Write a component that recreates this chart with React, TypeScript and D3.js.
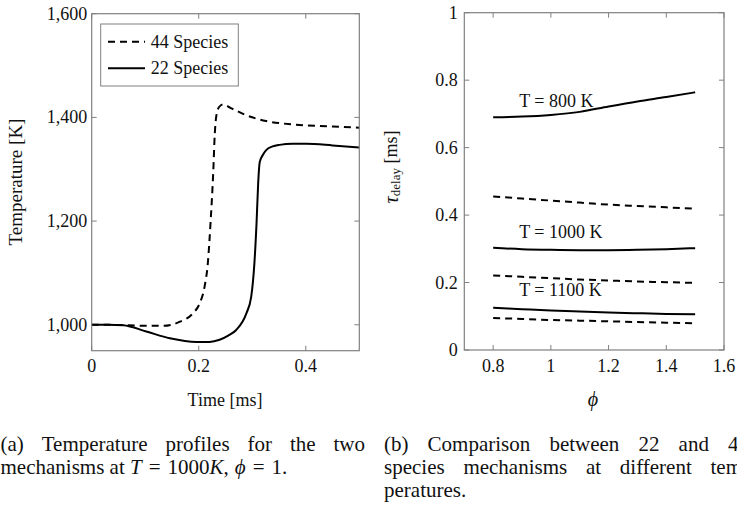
import React from "react";
import * as d3 from "d3";

// ---------- data: panel (a) ----------
const time44 = [0, 0.03, 0.07, 0.10, 0.134, 0.165, 0.189, 0.202, 0.211, 0.217, 0.222, 0.227, 0.230, 0.233, 0.238, 0.245, 0.26, 0.289, 0.326, 0.382, 0.44, 0.5];
const temp44 = [1000, 1000, 999, 998, 998, 1006, 1022, 1042, 1074, 1119, 1196, 1292, 1369, 1404, 1420, 1425, 1418, 1404, 1393, 1386, 1383, 1380];
const time22 = [0, 0.03, 0.059, 0.102, 0.146, 0.196, 0.22, 0.239, 0.255, 0.27, 0.289, 0.298, 0.304, 0.308, 0.311, 0.314, 0.32, 0.326, 0.338, 0.351, 0.375, 0.401, 0.45, 0.5];
const temp22 = [1000, 1000, 999, 987, 974, 967, 967, 971, 979, 990, 1022, 1054, 1119, 1196, 1272, 1314, 1328, 1337, 1344, 1347, 1349, 1349, 1346, 1342];
const timeTicks = [0, 0.2, 0.4];
const tempTicks = [1000, 1200, 1400, 1600];
const legendLabels = ["44 Species", "22 Species"];

// ---------- data: panel (b) ----------
const phi = [0.8, 0.9, 1.0, 1.1, 1.2, 1.3, 1.4, 1.5];
const delay22_800 = [0.690, 0.692, 0.697, 0.706, 0.722, 0.737, 0.750, 0.764];
const delay44_800 = [0.455, 0.449, 0.443, 0.437, 0.431, 0.427, 0.423, 0.419];
const delay22_1000 = [0.303, 0.299, 0.297, 0.296, 0.296, 0.297, 0.299, 0.302];
const delay44_1000 = [0.221, 0.217, 0.213, 0.209, 0.206, 0.203, 0.201, 0.199];
const delay22_1100 = [0.125, 0.121, 0.117, 0.114, 0.111, 0.109, 0.107, 0.106];
const delay44_1100 = [0.095, 0.092, 0.089, 0.087, 0.085, 0.083, 0.081, 0.079];
const phiTicks = [0.8, 1, 1.2, 1.4, 1.6];
const delayTicks = [0, 0.2, 0.4, 0.6, 0.8, 1];
const tempLabels = ["T = 800 K", "T = 1000 K", "T = 1100 K"];
const labelPhi = [0.89, 0.89, 0.89];
const labelDelay = [0.72, 0.333, 0.161];

// ---------- captions ----------
const capA1 = ["(a)", "Temperature", "profiles", "for", "the", "two"];
const capB1 = ["(b)", "Comparison", "between", "22", "and", "44"];
const capB2 = ["species", "mechanisms", "at", "different", "tem-"];
const capB3 = "peratures.";

const SERIF = "'Liberation Serif', 'Times New Roman', serif";
const FRAME = "#808080";
const CAP_SIZE = 21;
const FS = 18;

function justify(words: string[], x0: number, x1: number, size: number) {
  let ctx: CanvasRenderingContext2D | null = null;
  try {
    ctx = document.createElement("canvas").getContext("2d");
  } catch (e) {
    ctx = null;
  }
  const widths = words.map((w) => {
    if (ctx) {
      ctx.font = `${size}px 'Liberation Serif'`;
      return ctx.measureText(w).width;
    }
    return w.length * size * 0.48;
  });
  const total = widths.reduce((a, b) => a + b, 0);
  const gap = (x1 - x0 - total) / (words.length - 1);
  const xs: number[] = [];
  let x = x0;
  widths.forEach((w) => {
    xs.push(x);
    x += w + gap;
  });
  return xs;
}

export default function App() {
  const ax = d3.scaleLinear().domain([0, 0.5]).range([91.7, 359.3]);
  const ay = d3.scaleLinear().domain([950, 1600]).range([350.7, 13.7]);
  const bx = d3.scaleLinear().domain([0.7, 1.6]).range([464.3, 724]);
  const by = d3.scaleLinear().domain([0, 1]).range([350, 12.7]);

  const lineA = d3
    .line<[number, number]>()
    .x((d) => ax(d[0]))
    .y((d) => ay(d[1]))
    .curve(d3.curveMonotoneX);
  const lineB = d3
    .line<[number, number]>()
    .x((d) => bx(d[0]))
    .y((d) => by(d[1]))
    .curve(d3.curveMonotoneX);

  const zip = (xs: number[], ys: number[]) => xs.map((x, i) => [x, ys[i]] as [number, number]);

  const bSeries = [
    { v: delay22_800, dashed: false },
    { v: delay44_800, dashed: true },
    { v: delay22_1000, dashed: false },
    { v: delay44_1000, dashed: true },
    { v: delay22_1100, dashed: false },
    { v: delay44_1100, dashed: true },
  ];

  const dash = "7,5";
  const tickLen = 5;
  const fmtThousands = d3.format(",");

  const a1x = justify(capA1, 0.5, 365, CAP_SIZE);
  const b1x = justify(capB1, 384, 749, CAP_SIZE);
  const b2x = justify(capB2, 384, 749, CAP_SIZE);

  const [axL, axR] = ax.range();
  const [ayB, ayT] = ay.range();
  const [bxL, bxR] = bx.range();
  const [byB, byT] = by.range();

  return (
    <svg
      width={737}
      height={515}
      style={{ position: "absolute", left: 0, top: 0, background: "#fff" }}
      fontFamily={SERIF}
    >
      {/* ============ Panel (a) ============ */}
      <g>
        {timeTicks.map((t) => (
          <g key={"at" + t} stroke={FRAME} strokeWidth={1}>
            <line x1={ax(t)} x2={ax(t)} y1={ayB} y2={ayB - tickLen} />
            <line x1={ax(t)} x2={ax(t)} y1={ayT} y2={ayT + tickLen} />
          </g>
        ))}
        {tempTicks.map((t) => (
          <g key={"ay" + t} stroke={FRAME} strokeWidth={1}>
            <line x1={axL} x2={axL + tickLen} y1={ay(t)} y2={ay(t)} />
            <line x1={axR} x2={axR - tickLen} y1={ay(t)} y2={ay(t)} />
          </g>
        ))}
        <path d={lineA(zip(time44, temp44)) || ""} fill="none" stroke="#000" strokeWidth={2} strokeDasharray={dash} />
        <path d={lineA(zip(time22, temp22)) || ""} fill="none" stroke="#000" strokeWidth={2} />
        <rect x={axL} y={ayT} width={axR - axL} height={ayB - ayT} fill="none" stroke={FRAME} strokeWidth={1.2} />
        {timeTicks.map((t) => (
          <text key={"atl" + t} x={ax(t)} y={372} fontSize={FS} textAnchor="middle" fill="#111">
            {String(t)}
          </text>
        ))}
        {tempTicks.map((t) => (
          <text key={"ayl" + t} x={axL - 4.5} y={ay(t)} fontSize={FS} textAnchor="end" dominantBaseline="central" fill="#111">
            {fmtThousands(t)}
          </text>
        ))}
        <text x={225} y={406} fontSize={FS} textAnchor="middle" fill="#111">
          Time [ms]
        </text>
        <text
          transform={`translate(15,182) rotate(-90)`}
          fontSize={19}
          textAnchor="middle"
          dominantBaseline="central"
          fill="#111"
        >
          Temperature [K]
        </text>
        <rect x={100.7} y={24} width={137.6} height={62} fill="#fff" stroke={FRAME} strokeWidth={1} />
        {legendLabels.map((lab, i) => (
          <g key={lab}>
            <line
              x1={108}
              x2={145}
              y1={41.7 + i * 26.6}
              y2={41.7 + i * 26.6}
              stroke="#000"
              strokeWidth={2}
              strokeDasharray={i === 0 ? dash : undefined}
            />
            <text x={150.7} y={41.7 + i * 26.6} fontSize={FS} dominantBaseline="central" fill="#111">
              {lab}
            </text>
          </g>
        ))}
      </g>

      {/* ============ Panel (b) ============ */}
      <g>
        {phiTicks.map((t) => (
          <g key={"bt" + t} stroke={FRAME} strokeWidth={1}>
            <line x1={bx(t)} x2={bx(t)} y1={byB} y2={byB - tickLen} />
            <line x1={bx(t)} x2={bx(t)} y1={byT} y2={byT + tickLen} />
          </g>
        ))}
        {delayTicks.map((t) => (
          <g key={"by" + t} stroke={FRAME} strokeWidth={1}>
            <line x1={bxL} x2={bxL + tickLen} y1={by(t)} y2={by(t)} />
            <line x1={bxR} x2={bxR - tickLen} y1={by(t)} y2={by(t)} />
          </g>
        ))}
        {bSeries.map((s, i) => (
          <path
            key={"bs" + i}
            d={lineB(zip(phi, s.v)) || ""}
            fill="none"
            stroke="#000"
            strokeWidth={2}
            strokeDasharray={s.dashed ? dash : undefined}
          />
        ))}
        {tempLabels.map((lab, i) => (
          <text key={lab} x={bx(labelPhi[i])} y={by(labelDelay[i])} fontSize={FS} fill="#111">
            {lab}
          </text>
        ))}
        <rect x={bxL} y={byT} width={bxR - bxL} height={byB - byT} fill="none" stroke={FRAME} strokeWidth={1.2} />
        {phiTicks.map((t) => (
          <text key={"btl" + t} x={bx(t)} y={372} fontSize={FS} textAnchor="middle" fill="#111">
            {String(t)}
          </text>
        ))}
        {delayTicks.map((t) => (
          <text key={"byl" + t} x={bxL - 6.5} y={by(t)} fontSize={FS} textAnchor="end" dominantBaseline="central" fill="#111">
            {String(t)}
          </text>
        ))}
        <text x={593} y={406} fontSize={20} textAnchor="middle" fontStyle="italic" fill="#111">
          ϕ
        </text>
        <text transform={`translate(391,167) rotate(-90)`} fontSize={FS} textAnchor="middle" dominantBaseline="central" fill="#111">
          <tspan fontStyle="italic" fontSize={20}>τ</tspan>
          <tspan fontSize={13} dy={4}>delay</tspan>
          <tspan dy={-4}> [ms]</tspan>
        </text>
      </g>

      {/* ============ Captions ============ */}
      <g fontSize={CAP_SIZE} fill="#111">
        {capA1.map((w, i) => (
          <text key={"a1" + i} x={a1x[i]} y={451}>
            {w}
          </text>
        ))}
        <text x={0.5} y={474}>
          mechanisms at <tspan fontStyle="italic">T</tspan>
          <tspan dx={7}>=</tspan>
          <tspan dx={7}>1000</tspan>
          <tspan fontStyle="italic">K</tspan>,
          <tspan dx={6} fontStyle="italic">ϕ</tspan>
          <tspan dx={7}>=</tspan>
          <tspan dx={7}>1.</tspan>
        </text>
        {capB1.map((w, i) => (
          <text key={"b1" + i} x={b1x[i]} y={451}>
            {w}
          </text>
        ))}
        {capB2.map((w, i) => (
          <text key={"b2" + i} x={b2x[i]} y={474}>
            {w}
          </text>
        ))}
        <text x={384} y={497}>
          {capB3}
        </text>
      </g>
    </svg>
  );
}
